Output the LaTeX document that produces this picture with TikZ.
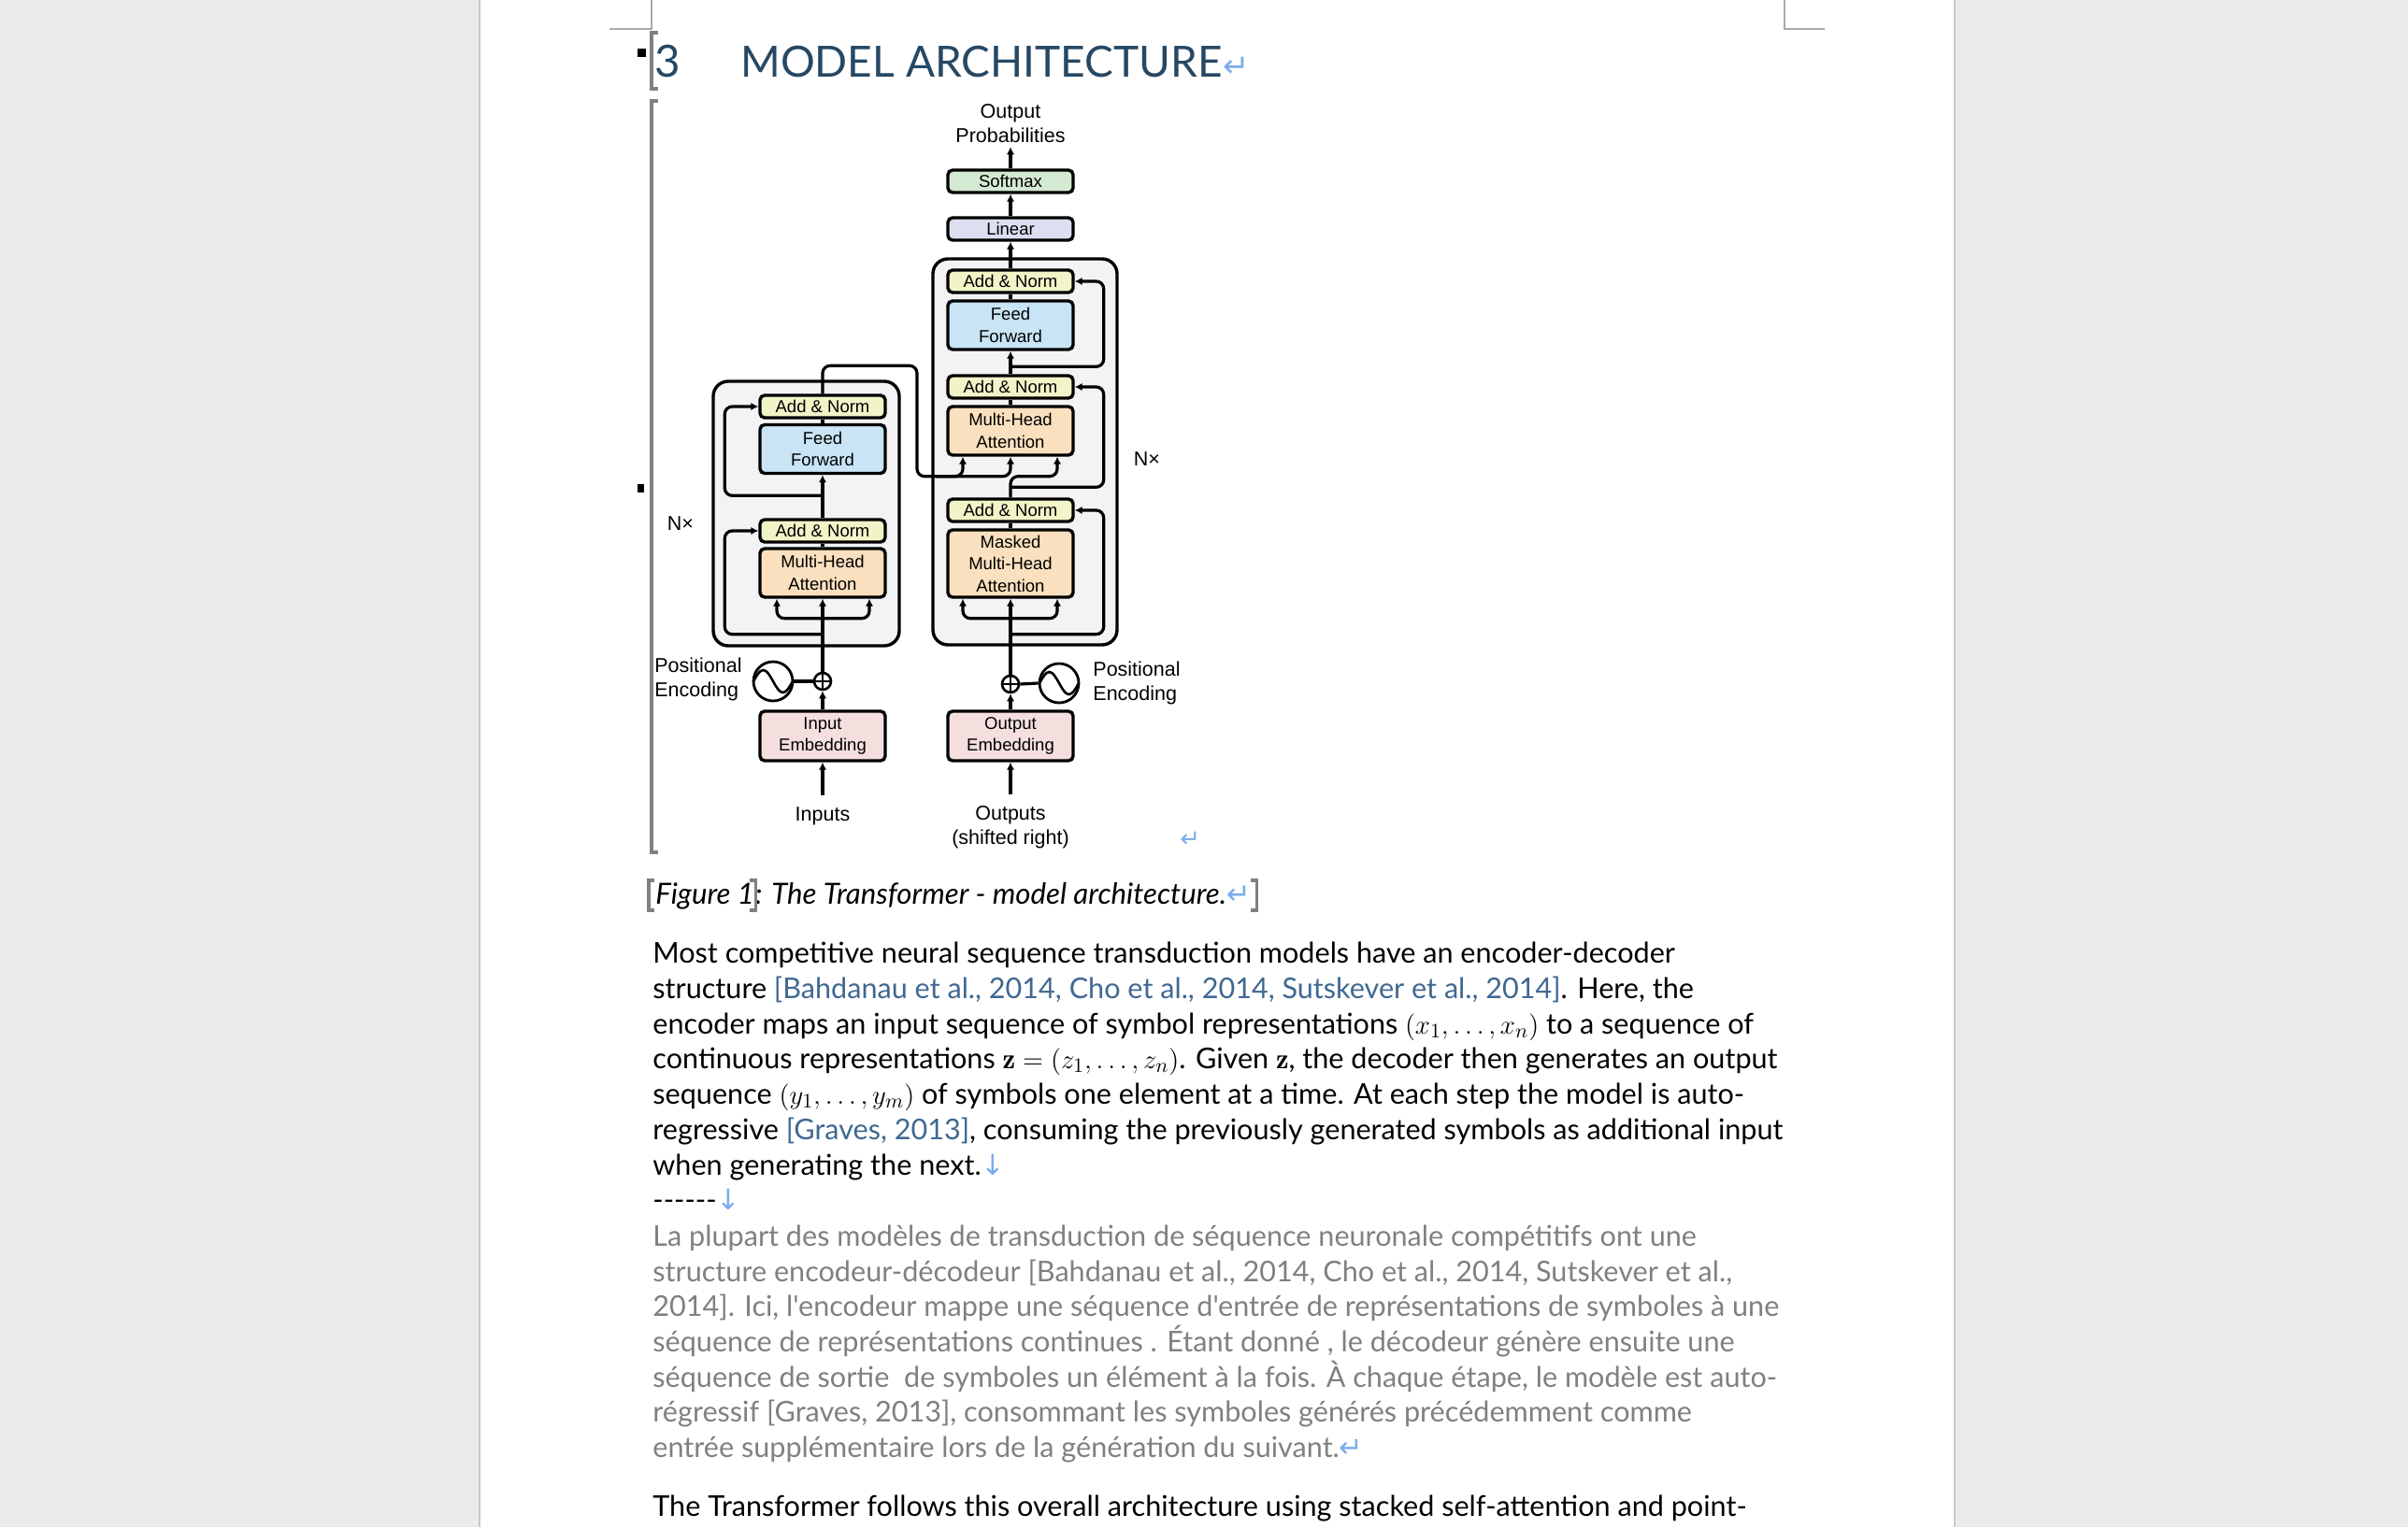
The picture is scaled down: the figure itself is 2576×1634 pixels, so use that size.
\documentclass[tikz,border=0pt]{standalone}
\usepackage{fontspec}
\newfontfamily\bodyfont{Lato}
\newfontfamily\diagfont{Liberation Sans}
\newfontfamily\symfont{DejaVu Sans}
\usetikzlibrary{arrows.meta,calc}
\definecolor{bgc}{RGB}{235,235,235}
\definecolor{edgec}{RGB}{200,200,200}
\definecolor{cropc}{RGB}{170,170,170}
\definecolor{brkc}{RGB}{128,128,128}
\definecolor{headc}{RGB}{38,72,100}
\definecolor{markc}{RGB}{125,172,236}
\definecolor{citec}{RGB}{64,104,146}
\definecolor{frc}{RGB}{128,128,128}
\definecolor{cAN}{RGB}{242,244,200}
\definecolor{cFF}{RGB}{200,228,245}
\definecolor{cMHA}{RGB}{250,224,190}
\definecolor{cEMB}{RGB}{244,222,222}
\definecolor{cSM}{RGB}{212,233,209}
\definecolor{cLIN}{RGB}{220,223,240}
\definecolor{cOUT}{RGB}{243,243,245}
\newcommand\cit[1]{\textcolor{citec}{#1}}
\newcommand\mk[1]{{\symfont\textcolor{markc}{#1}}}
\begin{document}
\begin{tikzpicture}[x=0.5pt,y=-0.5pt,
  box/.style={draw, line width=1.7pt, rounded corners=2.5pt, minimum width=67pt, inner sep=0pt, align=center, font=\diagfont\fontsize{9.25}{11.75}\selectfont},
  an/.style={box, fill=cAN, minimum height=12pt},
  ff/.style={box, fill=cFF, minimum height=26pt},
  mha/.style={box, fill=cMHA, minimum height=26pt},
  emb/.style={box, fill=cEMB, minimum height=26.5pt},
  lbl/.style={inner sep=0pt, align=center, font=\diagfont\fontsize{10.75}{13.25}\selectfont},
  conn/.style={line width=1.6pt},
  arr/.style={conn, -{Latex[length=4pt,width=4.2pt]}},
  outerbox/.style={draw, line width=1.7pt, fill=cOUT, rounded corners=8pt},
  plus/.style={circle, draw, line width=1.3pt, fill=white, minimum size=9pt, inner sep=0pt,
    path picture={\draw[line width=1.1pt] (path picture bounding box.north) -- (path picture bounding box.south) (path picture bounding box.west) -- (path picture bounding box.east);}},
  sine/.style={circle, draw, line width=1.4pt, fill=white, minimum size=21pt, inner sep=0pt,
    path picture={\draw[line width=1.3pt] (path picture bounding box.west) sin ++(10.5,-12) cos ++(10.5,12) sin ++(10.5,12) cos ++(10.5,-12);}},
  txt/.style={anchor=base west, inner sep=0pt, font=\bodyfont\fontsize{15.3}{18.9}\selectfont},
  captxt/.style={anchor=base west, inner sep=0pt, font=\bodyfont\itshape\fontsize{15.6}{18}\selectfont},
  brk/.style={draw=brkc, line width=1.6pt},
  crop/.style={draw=cropc, line width=1pt}
]
\useasboundingbox (0,0) rectangle (2576,1634);
\fill[bgc] (0,0) rectangle (2576,1634);
\fill[white] (514,0) rectangle (2090,1634);
\draw[edgec, line width=1pt] (513,0) -- (513,1634);
\draw[edgec, line width=1pt] (2091,0) -- (2091,1634);
% crop marks
\draw[crop] (697,0) -- (697,31) -- (652,31);
\draw[crop] (1909,0) -- (1909,31) -- (1952,31);
% heading
\fill (682,52) rectangle (691,61);
\draw[brk] (704,35) -- (697,35) -- (697,95) -- (704,95);
\node[anchor=base west, inner sep=0pt, text=headc, font=\bodyfont\fontsize{23.7}{28}\selectfont] (hnum) at (700,82) {3};
\node[anchor=base west, inner sep=0pt, text=headc, font=\bodyfont\fontsize{23}{28}\selectfont] (htitle) at (792,82) {MODEL ARCHITECTURE};
\node[anchor=base west, inner sep=0pt, font=\fontsize{17}{20}\selectfont] (hret) at (htitle.base east) {\mk{↵}};
% figure bracket
\fill (682,518) rectangle (689,527);
\draw[brk] (704,108) -- (697,108) -- (697,912) -- (704,912);
% outer boxes
\draw[outerbox] (998,277) rectangle (1195,690);
\draw[outerbox] (763,408) rectangle (962,691);
% decoder nodes
\node[lbl] (outprob) at (1081,132) {Output\\Probabilities};
\node[box, fill=cSM, minimum height=12pt] (softmax) at (1081,194) {Softmax};
\node[box, fill=cLIN, minimum height=12pt] (linear) at (1081,245) {Linear};
\node[an] (dan3) at (1081,301) {Add \& Norm};
\node[ff] (dff) at (1081,348) {Feed\\Forward};
\node[an] (dan2) at (1081,414) {Add \& Norm};
\node[mha] (dmha) at (1081,461) {Multi-Head\\Attention};
\node[an] (dan1) at (1081,546) {Add \& Norm};
\node[mha, minimum height=36pt] (dmmha) at (1081,603) {Masked\\Multi-Head\\Attention};
\node[emb] (demb) at (1081,787.5) {Output\\Embedding};
\node[plus] (dplus) at (1081,732) {};
\node[sine] (dsine) at (1133,731) {};
\node[lbl, anchor=west, align=left] (dpe) at (1169,731) {Positional\\Encoding};
\node[lbl] (outs) at (1081,885) {Outputs\\(shifted right)};
\node[lbl] (dnx) at (1227,491) {N×};
% encoder nodes
\node[an] (ean2) at (880,435) {Add \& Norm};
\node[ff] (eff) at (880,480.5) {Feed\\Forward};
\node[an] (ean1) at (880,568) {Add \& Norm};
\node[mha] (emha) at (880,613) {Multi-Head\\Attention};
\node[emb] (eemb) at (880,787.5) {Input\\Embedding};
\node[plus] (eplus) at (880,729) {};
\node[sine] (esine) at (827,729) {};
\node[lbl, anchor=west, align=left] (epe) at (700,727) {Positional\\Encoding};
\node[lbl] (inputs) at (880,873) {Inputs};
\node[lbl] (enx) at (728,560) {N×};
% encoder connectors
\draw[arr] ([yshift=6pt]inputs.north) -- (eemb.south);
\draw[arr] (eemb.north) -- (eplus.south);
\draw[conn] (esine.east) -- (eplus.west);
\draw[arr] (eplus.north) -- (emha.south);
\coordinate (ebr1) at ($(emha.south)+(0,21)$);
\draw[arr, rounded corners=4pt] (ebr1) -| ($(emha.south)+(-49,0)$);
\draw[arr, rounded corners=4pt] (ebr1) -| ($(emha.south)+(50,0)$);
\coordinate (eres1) at ($(emha.south)+(0,38)$);
\draw[arr, rounded corners=4pt] (eres1) -| ($(ean1.west)+(-36,0)$) -- (ean1.west);
\draw[conn] (emha.north) -- (ean1.south);
\draw[arr] (ean1.north) -- (eff.south);
\coordinate (eres2) at ($(ean1.north)+(0,-24)$);
\draw[arr, rounded corners=4pt] (eres2) -| ($(ean2.west)+(-36,0)$) -- (ean2.west);
\draw[conn] (eff.north) -- (ean2.south);
\coordinate (etop) at ($(ean2.north)+(0,-30)$);
\coordinate (edown) at ($(dmha.south)+(-100,21)$);
\draw[arr, rounded corners=4pt] (ean2.north) -- (etop) -| (edown) -| (dmha.south);
\draw[arr, rounded corners=4pt] ($(edown)+(20,0)$) -| ($(dmha.south)+(-51,0)$);
% decoder connectors
\draw[arr] ([yshift=6pt]outs.north) -- (demb.south);
\draw[arr] (demb.north) -- (dplus.south);
\draw[conn] (dplus.east) -- (dsine.west);
\draw[arr] (dplus.north) -- (dmmha.south);
\coordinate (dbr1) at ($(dmmha.south)+(0,21)$);
\draw[arr, rounded corners=4pt] (dbr1) -| ($(dmmha.south)+(-51,0)$);
\draw[arr, rounded corners=4pt] (dbr1) -| ($(dmmha.south)+(50,0)$);
\coordinate (dres1) at ($(dmmha.south)+(0,38)$);
\draw[arr, rounded corners=4pt] (dres1) -| ($(dan1.east)+(31,0)$) -- (dan1.east);
\draw[conn] (dmmha.north) -- (dan1.south);
\draw[arr, rounded corners=4pt] (dan1.north) |- ($(dmha.south)+(50,21)$) -- ($(dmha.south)+(50,0)$);
\coordinate (dres2) at ($(dan1.north)+(0,-11)$);
\draw[arr, rounded corners=4pt] (dres2) -| ($(dan2.east)+(31,0)$) -- (dan2.east);
\draw[conn] (dmha.north) -- (dan2.south);
\draw[arr] (dan2.north) -- (dff.south);
\coordinate (dres3) at ($(dan2.north)+(0,-8)$);
\draw[arr, rounded corners=4pt] (dres3) -| ($(dan3.east)+(31,0)$) -- (dan3.east);
\draw[conn] (dff.north) -- (dan3.south);
\draw[arr] (dan3.north) -- (linear.south);
\draw[arr] (linear.north) -- (softmax.south);
\draw[arr] (softmax.north) -- ([yshift=-2pt]outprob.south);
\node[anchor=base west, inner sep=0pt, font=\fontsize{13}{16}\selectfont] (fret) at (1262,906) {\mk{↵}};
% caption
\node[captxt] (capa) at (701,967) {Figure 1};
\node[captxt] (capb) at (capa.base east) {: The Transformer - model architecture.\mk{↵}};
\draw[brk] (700,942) -- (694,942) -- (694,974) -- (700,974);
\draw[brk] ($(capa.base east)+(-5,-25)$) -- ($(capa.base east)+(1,-25)$) -- ($(capa.base east)+(1,7)$) -- ($(capa.base east)+(-5,7)$);
\draw[brk] ($(capb.base east)+(0,-25)$) -- ($(capb.base east)+(6,-25)$) -- ($(capb.base east)+(6,7)$) -- ($(capb.base east)+(0,7)$);
% body text
\node[txt] (l1) at (698,1030) {Most competitive neural sequence transduction models have an encoder-decoder};
\node[txt] (l2) at (698,1068) {structure \cit{[Bahdanau et al., 2014, Cho et al., 2014, Sutskever et al., 2014]}. Here, the};
\node[txt] (l3) at (698,1106) {encoder maps an input sequence of symbol representations $(x_1,\ldots,x_n)$ to a sequence of};
\node[txt] (l4) at (698,1143) {continuous representations $\mathbf{z}=(z_1,\ldots,z_n)$. Given $\mathbf{z}$, the decoder then generates an output};
\node[txt] (l5) at (698,1181) {sequence $(y_1,\ldots,y_m)$ of symbols one element at a time. At each step the model is auto-};
\node[txt] (l6) at (698,1219) {regressive \cit{[Graves, 2013]}, consuming the previously generated symbols as additional input};
\node[txt] (l7) at (698,1257) {when generating the next.\mk{↓}};
\node[txt] (l8) at (698,1294) {------\mk{↓}};
\node[txt, text=frc] (f1) at (698,1333) {La plupart des modèles de transduction de séquence neuronale compétitifs ont une};
\node[txt, text=frc] (f2) at (698,1371) {structure encodeur-décodeur [Bahdanau et al., 2014, Cho et al., 2014, Sutskever et al.,};
\node[txt, text=frc] (f3) at (698,1408) {2014]. Ici, l'encodeur mappe une séquence d'entrée de représentations de symboles à une};
\node[txt, text=frc] (f4) at (698,1446) {séquence de représentations continues . Étant donné , le décodeur génère ensuite une};
\node[txt, text=frc] (f5) at (698,1484) {séquence de sortie\ \ de symboles un élément à la fois. À chaque étape, le modèle est auto-};
\node[txt, text=frc] (f6) at (698,1521) {régressif [Graves, 2013], consommant les symboles générés précédemment comme};
\node[txt, text=frc] (f7) at (698,1559) {entrée supplémentaire lors de la génération du suivant.\mk{↵}};
\node[txt] (l16) at (698,1622) {The Transformer follows this overall architecture using stacked self-attention and point-};
\end{tikzpicture}
\end{document}
